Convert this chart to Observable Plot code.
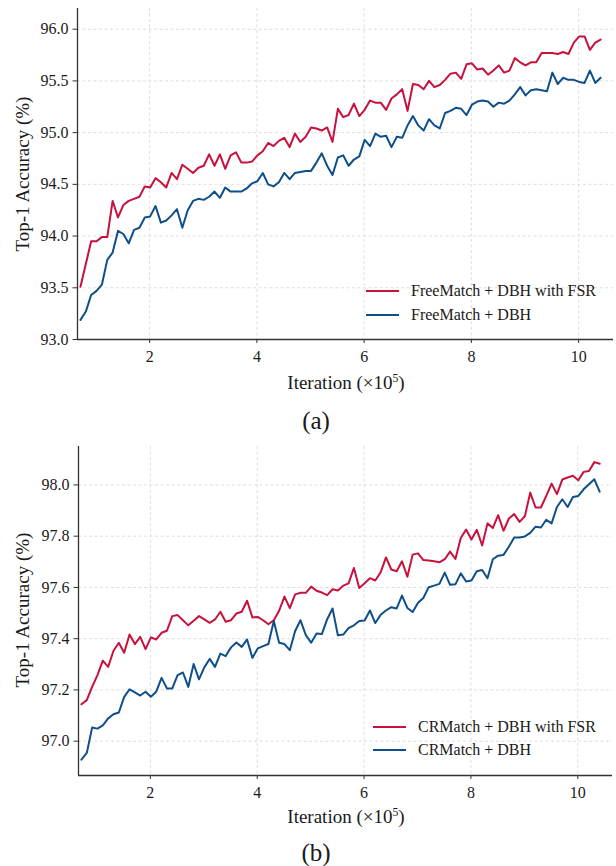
<!DOCTYPE html>
<html>
<head>
<meta charset="utf-8">
<script src="https://cdn.jsdelivr.net/npm/d3@7"></script>
<script src="https://cdn.jsdelivr.net/npm/@observablehq/plot@0.6"></script>
<style>
  html, body { margin: 0; padding: 0; background: #fff; overflow: hidden; }
  #wrap { position: relative; width: 616px; height: 866px; font-family: "Liberation Serif", "Times New Roman", serif; color: #1a1a1a; }
  .abs { position: absolute; white-space: nowrap; }
  .cen { transform: translate(-50%, -50%); }
  .rot { transform: translate(-50%, -50%) rotate(-90deg); }
  .leg { position: absolute; display: flex; align-items: center; height: 22px; font-size: 16px; white-space: nowrap; }
  .sw { width: 33px; height: 2px; margin-right: 12.5px; }
</style>
</head>
<body>
<div id="wrap"></div>
<script>
// ---------- data ----------
const iterations = [
  0.71,0.81,0.91,1.01,1.11,1.21,1.31,1.41,1.51,1.61,
  1.71,1.81,1.91,2.01,2.11,2.21,2.31,2.41,2.51,2.61,
  2.71,2.81,2.91,3.01,3.11,3.21,3.31,3.41,3.51,3.61,
  3.71,3.81,3.91,4.01,4.11,4.21,4.31,4.41,4.51,4.61,
  4.71,4.81,4.91,5.01,5.11,5.21,5.31,5.41,5.51,5.61,
  5.71,5.81,5.91,6.01,6.11,6.21,6.31,6.41,6.51,6.61,
  6.71,6.81,6.91,7.01,7.11,7.21,7.31,7.41,7.51,7.61,
  7.71,7.81,7.91,8.01,8.11,8.21,8.31,8.41,8.51,8.61,
  8.71,8.81,8.91,9.01,9.11,9.21,9.31,9.41,9.51,9.61,
  9.71,9.81,9.91,10.01,10.11,10.21,10.31,10.41
];

const freeMatchFSR = [
  93.51,93.73,93.95,93.95,93.99,93.99,94.34,94.18,94.30,94.34,
  94.36,94.38,94.48,94.47,94.56,94.52,94.47,94.61,94.55,94.69,
  94.65,94.61,94.66,94.68,94.79,94.68,94.79,94.65,94.78,94.81,
  94.71,94.71,94.72,94.78,94.82,94.90,94.87,94.92,94.95,94.86,
  94.99,94.91,94.96,95.05,95.04,95.02,95.05,94.91,
  95.23,95.15,95.17,95.28,95.16,95.22,95.31,95.29,95.29,95.22,
  95.33,95.37,95.42,95.21,95.47,95.46,95.42,95.50,95.44,95.46,
  95.51,95.57,95.58,95.52,95.66,95.67,95.61,95.62,95.56,95.60,
  95.65,95.58,95.60,95.72,95.68,95.65,95.68,95.68,95.77,95.77,
  95.77,95.76,95.78,95.76,95.87,95.93,95.93,95.80,95.87,95.90
];
const freeMatch = [
  93.19,93.27,93.43,93.47,93.53,93.77,93.84,94.05,94.02,93.93,
  94.06,94.08,94.18,94.19,94.29,94.13,94.15,94.20,94.26,94.08,
  94.25,94.34,94.36,94.35,94.38,94.43,94.37,94.47,94.43,94.43,
  94.43,94.46,94.51,94.53,94.61,94.50,94.48,94.52,94.61,94.55,
  94.61,94.62,94.63,94.63,94.71,94.80,94.68,94.59,
  94.76,94.78,94.68,94.74,94.77,94.93,94.87,94.99,94.96,94.97,
  94.86,94.96,94.95,95.07,95.16,95.07,95.02,95.13,95.07,95.04,
  95.19,95.21,95.24,95.23,95.17,95.27,95.30,95.31,95.30,95.25,
  95.29,95.28,95.31,95.37,95.44,95.36,95.41,95.42,95.41,95.40,
  95.58,95.47,95.53,95.51,95.51,95.49,95.48,95.60,95.48,95.53
];

const crMatchFSR = [
  97.144,97.160,97.212,97.258,97.314,97.290,97.353,97.384,97.345,97.416,
  97.379,97.407,97.359,97.405,97.397,97.423,97.431,97.488,97.492,97.472,
  97.452,97.470,97.488,97.475,97.462,97.475,97.505,97.466,97.472,97.498,
  97.505,97.548,97.483,97.485,97.472,97.456,97.472,97.509,97.564,97.519,
  97.573,97.579,97.579,97.603,97.587,97.580,97.570,97.593,
  97.588,97.607,97.616,97.676,97.598,97.616,97.636,97.627,97.659,97.717,
  97.670,97.663,97.702,97.642,97.728,97.733,97.707,97.705,97.702,97.698,
  97.710,97.740,97.711,97.793,97.826,97.787,97.825,97.764,97.850,97.832,
  97.882,97.821,97.869,97.886,97.856,97.878,97.970,97.912,97.912,97.957,
  98.005,97.964,98.021,98.029,98.036,98.018,98.051,98.054,98.089,98.083
];
const crMatch = [
  96.928,96.954,97.053,97.049,97.062,97.089,97.105,97.112,97.173,97.202,
  97.190,97.178,97.193,97.173,97.193,97.247,97.206,97.206,97.258,97.268,
  97.212,97.301,97.241,97.288,97.321,97.290,97.342,97.332,97.366,97.385,
  97.368,97.397,97.325,97.362,97.371,97.379,97.469,97.384,97.379,97.355,
  97.430,97.472,97.414,97.384,97.420,97.418,97.476,97.518,
  97.413,97.416,97.441,97.452,97.469,97.471,97.510,97.461,97.493,97.510,
  97.523,97.518,97.568,97.520,97.504,97.540,97.559,97.601,97.607,97.614,
  97.658,97.610,97.612,97.655,97.623,97.627,97.663,97.668,97.636,97.710,
  97.724,97.727,97.759,97.795,97.795,97.799,97.813,97.837,97.834,97.864,
  97.850,97.914,97.944,97.914,97.953,97.957,97.983,98.003,98.022,97.974
];

const xTicks = [2, 4, 6, 8, 10];
const yTicksA = [93.0, 93.5, 94.0, 94.5, 95.0, 95.5, 96.0];
const yTicksB = [97.0, 97.2, 97.4, 97.6, 97.8, 98.0];
const xDomain = [0.655, 10.65];
const yDomainA = [93.0, 96.2];
const yDomainB = [96.866, 98.15];

const seriesA = ["FreeMatch + DBH with FSR", "FreeMatch + DBH"];
const seriesB = ["CRMatch + DBH with FSR", "CRMatch + DBH"];
const colors = ["#c8113d", "#0e4f8a"];
const xLabel = "Iteration (×10<sup style='font-size:0.62em;vertical-align:0.55em;line-height:0'>5</sup>)";
const yLabel = "Top-1 Accuracy (%)";

// ---------- drawing ----------
const wrap = document.getElementById("wrap");

function table(vals) { return iterations.map((it, i) => ({it, v: vals[i]})); }

function panel(fsr, base, yDomain, yTicks, opts) {
  return Plot.plot({
    width: 616,
    height: opts.height,
    marginLeft: opts.left,
    marginRight: opts.right,
    marginTop: opts.top,
    marginBottom: opts.bottom,
    style: {fontFamily: "Liberation Serif, Times New Roman, serif", fontSize: "16px", color: "#1a1a1a", background: "white", overflow: "visible"},
    x: {domain: xDomain},
    y: {domain: yDomain},
    marks: [
      Plot.gridX(xTicks, {stroke: "#dedede", strokeOpacity: 1, strokeDasharray: "3,2.5"}),
      Plot.gridY(yTicks, {stroke: "#dedede", strokeOpacity: 1, strokeDasharray: "3,2.5"}),
      Plot.line(table(fsr), {x: "it", y: "v", stroke: colors[0], strokeWidth: 2}),
      Plot.line(table(base), {x: "it", y: "v", stroke: colors[1], strokeWidth: 2}),
      Plot.ruleX([xDomain[0]], {stroke: "#333", strokeWidth: 1.3}),
      Plot.ruleY([yDomain[0]], {stroke: "#333", strokeWidth: 1.3}),
      Plot.axisX(xTicks, {tickSize: 4, tickPadding: 7.5, label: null, stroke: "#333", fontSize: 16}),
      Plot.axisY(yTicks, {tickSize: 4.5, tickPadding: 4.5, tickFormat: d3.format(".1f"), label: null, stroke: "#333", fontSize: 16})
    ]
  });
}

function place(el, top) {
  el.style.position = "absolute";
  el.style.left = "0px";
  el.style.top = top + "px";
  wrap.appendChild(el);
}

function text(html, x, y, size, cls) {
  const d = document.createElement("div");
  d.className = "abs " + cls;
  d.style.left = x + "px";
  d.style.top = y + "px";
  d.style.fontSize = size + "px";
  d.style.lineHeight = "1";
  d.innerHTML = html;
  wrap.appendChild(d);
}

function legend(names, x, y0, gap) {
  names.forEach((n, i) => {
    const row = document.createElement("div");
    row.className = "leg";
    row.style.left = x + "px";
    row.style.top = (y0 + i * gap - 11) + "px";
    const sw = document.createElement("div");
    sw.className = "sw";
    sw.style.background = colors[i];
    const t = document.createElement("span");
    t.textContent = n;
    row.appendChild(sw);
    row.appendChild(t);
    wrap.appendChild(row);
  });
}

// Panel (a)
place(panel(freeMatchFSR, freeMatch, yDomainA, yTicksA, {height: 400, left: 77, right: 3, top: 8, bottom: 61}), 0);
text(xLabel, 346, 382, 19, "cen");
text(yLabel, 22, 173.5, 19, "rot");
text("(a)", 316, 419.5, 25, "cen");
legend(seriesA, 365.5, 291, 23.7);

// Panel (b)
place(panel(crMatchFSR, crMatch, yDomainB, yTicksB, {height: 392, left: 78, right: 4, top: 4, bottom: 59}), 442);
text(xLabel, 346, 816, 19, "cen");
text(yLabel, 22, 610, 19, "rot");
text("(b)", 316, 852, 25, "cen");
legend(seriesB, 372.5, 727.3, 22.7);
</script>
</body>
</html>
